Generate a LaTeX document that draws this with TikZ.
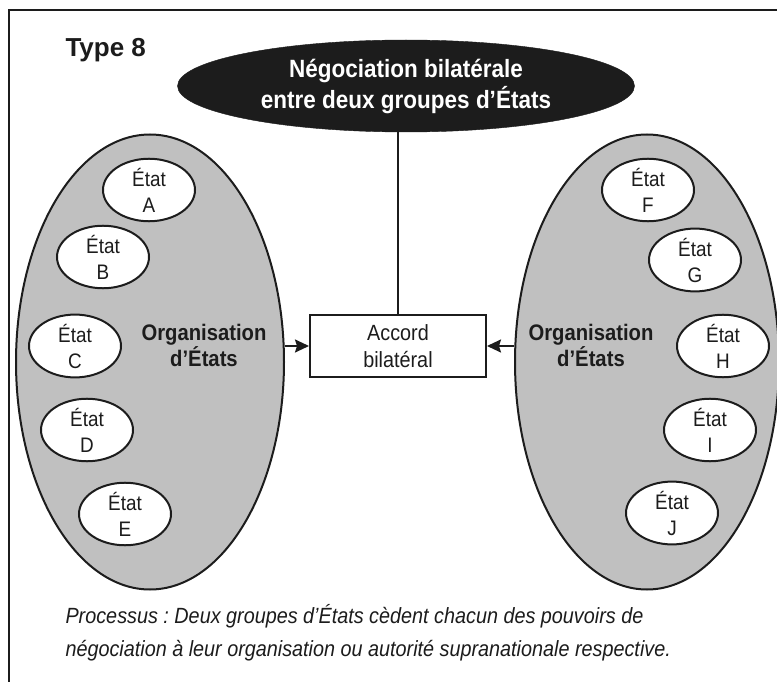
\documentclass[tikz,border=0pt]{standalone}
\usepackage{fontspec}
\usetikzlibrary{shapes.geometric,arrows.meta}
\newfontfamily\condsans[FakeStretch=0.9]{Liberation Sans}
\newfontfamily\plainsans{Liberation Sans}
\frenchspacing
\definecolor{ink}{HTML}{1C1C1C}
\definecolor{orgfill}{HTML}{C0C0C0}
\tikzset{
  frameline/.style={draw=ink,line width=2pt},
  orgshape/.style={ellipse,draw=ink,line width=2pt,fill=orgfill,inner sep=0pt},
  etat/.style={ellipse,draw=ink,line width=2pt,fill=white,inner sep=0pt,
    minimum width=92pt,minimum height=56pt,align=center,text=ink,
    font=\condsans\fontsize{21}{26}\selectfont},
  orglabel/.style={align=center,text=ink,font=\condsans\bfseries\fontsize{22.5}{26}\selectfont},
  negobox/.style={ellipse,fill=ink,draw=ink,inner sep=0pt,minimum width=457pt,
    minimum height=92pt,align=center,text=white,
    font=\condsans\bfseries\fontsize{25}{31}\selectfont},
  accordbox/.style={rectangle,draw=ink,line width=2pt,fill=white,minimum width=176pt,
    minimum height=62pt,align=center,text=ink,inner sep=0pt,
    font=\condsans\fontsize{22}{27}\selectfont},
  link/.style={draw=ink,line width=2pt},
  arr/.style={draw=ink,line width=2pt,-{Stealth[length=14pt,width=13pt,inset=2pt]}},
}
\begin{document}
\begin{tikzpicture}[x=1pt,y=-1pt]
\useasboundingbox (0,0) rectangle (777,682);
\fill[white] (0,0) rectangle (777,682);
\begin{scope}
\clip (0,0) rectangle (777,682);
\draw[frameline] (8.5,10) rectangle (800,720);
\end{scope}

% heading
\node[anchor=base west,text=ink,font=\plainsans\bfseries\fontsize{26}{28}\selectfont] (type) at (62,57) {Type 8};

% negotiation ellipse and agreement box
\node[negobox] (nego) at (406,86) {Négociation bilatérale\\entre deux groupes d’États};
\node[accordbox] (accord) at (398,346) {Accord\\bilatéral};

% the two organisations
\node[orgshape,minimum width=268pt,minimum height=455pt] (orgL) at (150,362) {};
\node[orgshape,minimum width=264pt,minimum height=455pt] (orgR) at (647,362) {};
\node[orglabel] (labL) at (204,345) {Organisation\\d’États};
\node[orglabel] (labR) at (591,345) {Organisation\\d’États};

% member states, left group
\node[etat] (A) at (149,190) {État\\A};
\node[etat] (B) at (103,257) {État\\B};
\node[etat] (C) at (75,346) {État\\C};
\node[etat] (D) at (87,430) {État\\D};
\node[etat] (E) at (125,514) {État\\E};

% member states, right group
\node[etat] (F) at (648,190) {État\\F};
\node[etat] (G) at (695,260) {État\\G};
\node[etat] (H) at (723,346) {État\\H};
\node[etat] (I) at (710,430) {État\\I};
\node[etat] (J) at (672,513) {État\\J};

% connectors
\draw[link] (nego.south -| accord.north) -- (accord.north);
\draw[arr] (accord.west -| orgL.east) -- (accord.west);
\draw[arr] (accord.east -| orgR.west) -- (accord.east);

% caption (anchored on the baseline of its last line)
\node[anchor=base west,align=left,text=ink,
  font=\condsans\itshape\fontsize{22}{33}\selectfont] (caption) at (62,656)
  {Processus : Deux groupes d’États cèdent chacun des pouvoirs de\\
   négociation à leur organisation ou autorité supranationale respective.};
\end{tikzpicture}
\end{document}
